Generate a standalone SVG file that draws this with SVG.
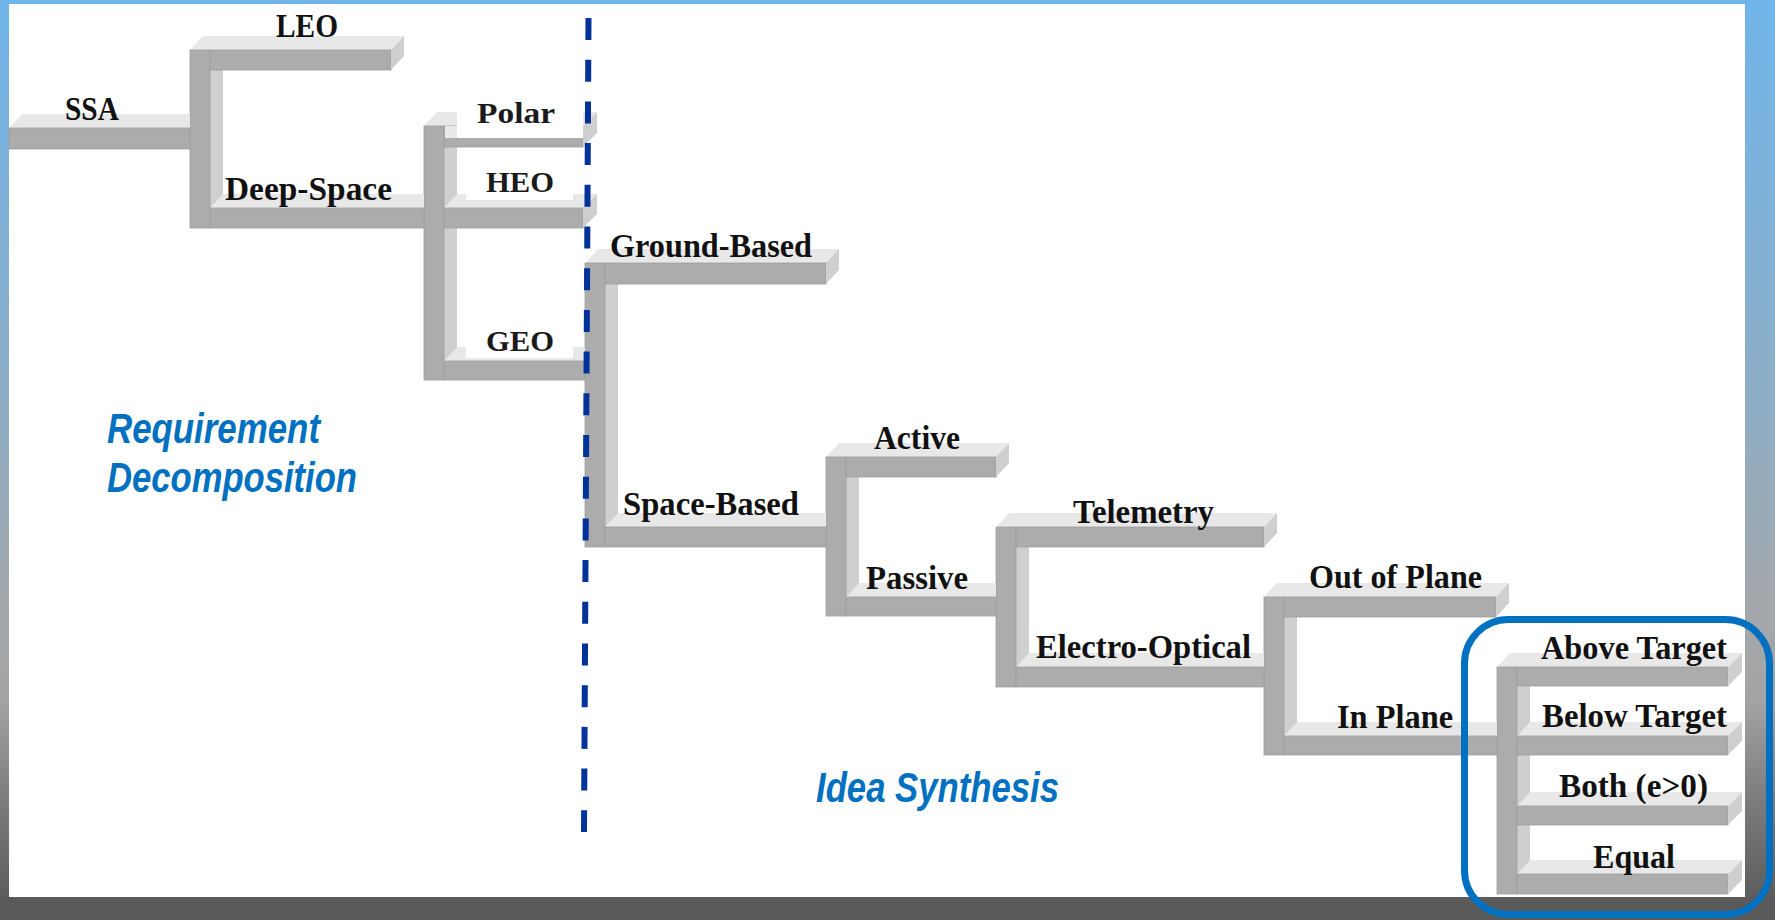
<svg xmlns="http://www.w3.org/2000/svg" width="1775" height="920" viewBox="0 0 1775 920">
  <defs>
    <linearGradient id="bg" x1="0" y1="0" x2="0" y2="1">
      <stop offset="0" stop-color="#70b5ea"/>
      <stop offset="0.43" stop-color="#8eaec6"/>
      <stop offset="0.65" stop-color="#a3a8ad"/>
      <stop offset="0.76" stop-color="#a4a4a4"/>
      <stop offset="0.87" stop-color="#7c7c7c"/>
      <stop offset="0.975" stop-color="#5d5d5d"/>
      <stop offset="1" stop-color="#5a5a5a"/>
    </linearGradient>
    <style>
      .front { fill:#acacac; stroke:#9e9e9e; stroke-width:0.8; }
      .top { fill:#e8e8e8; }
      .side { fill:#cfcfcf; }
      .mask { fill:#ffffff; }
      .lbl { font-family:"Liberation Serif","Times New Roman",serif; font-weight:bold; font-size:33px; fill:#111111; }
      .lbl2 { font-family:"Liberation Serif","Times New Roman",serif; font-weight:bold; font-size:29px; fill:#1a1a1a; }
      .phase { font-family:"Liberation Sans",Arial,sans-serif; font-weight:bold; font-style:italic; font-size:42px; fill:#0070c0; }
    </style>
  </defs>

  <!-- slide background and white canvas -->
  <rect x="0" y="0" width="1775" height="920" fill="url(#bg)"/>
  <rect x="0" y="897" width="1775" height="23" fill="#5a5a5a"/>
  <rect x="9" y="4" width="1736" height="893" fill="#ffffff"/>

  <!-- vertical branch bars joining each parent to its children -->
  <g id="connectors">
    <!-- SSA -> LEO / Deep-Space -->
    <polygon class="side" points="210,50 223,36 223,214 210,228"/>
    <polygon class="top" points="190,50 210,50 223,36 203,36"/>
    <rect class="front" x="190" y="50" width="20" height="178"/>
    <!-- Deep-Space -> Polar / HEO / GEO -->
    <polygon class="side" points="444,126 457,112 457,366 444,380"/>
    <polygon class="top" points="424,126 444,126 457,112 437,112"/>
    <rect class="front" x="424" y="126" width="20" height="254"/>
    <!-- GEO -> Ground-Based / Space-Based -->
    <polygon class="side" points="605,263 618,249 618,533 605,547"/>
    <polygon class="top" points="585,263 605,263 618,249 598,249"/>
    <rect class="front" x="585" y="263" width="20" height="284"/>
    <!-- Space-Based -> Active / Passive -->
    <polygon class="side" points="846,457 859,443 859,602 846,616"/>
    <polygon class="top" points="826,457 846,457 859,443 839,443"/>
    <rect class="front" x="826" y="457" width="20" height="159"/>
    <!-- Passive -> Telemetry / Electro-Optical -->
    <polygon class="side" points="1016,527 1029,513 1029,673 1016,687"/>
    <polygon class="top" points="996,527 1016,527 1029,513 1009,513"/>
    <rect class="front" x="996" y="527" width="20" height="160"/>
    <!-- Electro-Optical -> Out of Plane / In Plane -->
    <polygon class="side" points="1284,597 1297,583 1297,741 1284,755"/>
    <polygon class="top" points="1264,597 1284,597 1297,583 1277,583"/>
    <rect class="front" x="1264" y="597" width="20" height="158"/>
    <!-- In Plane -> Above / Below / Both / Equal -->
    <polygon class="side" points="1517,667 1530,653 1530,880 1517,894"/>
    <polygon class="top" points="1497,667 1517,667 1530,653 1510,653"/>
    <rect class="front" x="1497" y="667" width="20" height="227"/>
  </g>

  <g id="node-ssa">
    <polygon class="top" points="9,128 190,128 190,114 22,114"/>
    <rect class="front" x="9" y="128" width="181" height="21"/>
    <text class="lbl" x="65" y="120" textLength="54" lengthAdjust="spacingAndGlyphs">SSA</text>
  </g>

  <g id="node-leo">
    <polygon class="top" points="210,50 391,50 404,36 223,36"/>
    <rect class="front" x="210" y="50" width="181" height="20"/>
    <polygon class="side" points="391,50 404,36 404,56 391,70"/>
    <text class="lbl" x="276" y="37" textLength="62" lengthAdjust="spacingAndGlyphs">LEO</text>
  </g>

  <g id="node-deep-space">
    <polygon class="top" points="210,208 424,208 424,194 223,194"/>
    <rect class="front" x="210" y="208" width="214" height="20"/>
    <text class="lbl" x="225" y="200" textLength="167" lengthAdjust="spacingAndGlyphs">Deep-Space</text>
  </g>

  <g id="node-polar">
    <polygon class="top" points="444,126 583,126 597,112 457,112"/>
    <rect class="front" x="444" y="126" width="139" height="21"/>
    <polygon class="side" points="583,126 597,112 597,133 583,147"/>
    <rect class="mask" x="457" y="92" width="126" height="46"/>
    <rect class="top" x="445" y="126" width="12" height="12"/>
    <text class="lbl2" x="477" y="123" textLength="78" lengthAdjust="spacingAndGlyphs">Polar</text>
  </g>

  <g id="node-heo">
    <polygon class="top" points="444,208 583,208 597,194 457,194"/>
    <rect class="front" x="444" y="208" width="139" height="20"/>
    <polygon class="side" points="583,208 597,194 597,214 583,228"/>
    <rect class="mask" x="466" y="160" width="107" height="40"/>
    <text class="lbl2" x="486" y="192" textLength="68" lengthAdjust="spacingAndGlyphs">HEO</text>
  </g>

  <g id="node-geo">
    <polygon class="top" points="444,361 585,361 585,347 457,347"/>
    <rect class="front" x="444" y="361" width="141" height="19"/>
    <rect class="mask" x="466" y="318" width="107" height="40"/>
    <text class="lbl2" x="486" y="351" textLength="68" lengthAdjust="spacingAndGlyphs">GEO</text>
  </g>

  <g id="node-ground-based">
    <polygon class="top" points="605,263 826,263 839,249 618,249"/>
    <rect class="front" x="605" y="263" width="221" height="21"/>
    <polygon class="side" points="826,263 839,249 839,270 826,284"/>
    <text class="lbl" x="610" y="257" textLength="202" lengthAdjust="spacingAndGlyphs">Ground-Based</text>
  </g>

  <g id="node-space-based">
    <polygon class="top" points="605,527 826,527 826,513 618,513"/>
    <rect class="front" x="605" y="527" width="221" height="20"/>
    <text class="lbl" x="623" y="515" textLength="176" lengthAdjust="spacingAndGlyphs">Space-Based</text>
  </g>

  <g id="node-active">
    <polygon class="top" points="846,457 996,457 1009,443 859,443"/>
    <rect class="front" x="846" y="457" width="150" height="20"/>
    <polygon class="side" points="996,457 1009,443 1009,463 996,477"/>
    <text class="lbl" x="874" y="449" textLength="86" lengthAdjust="spacingAndGlyphs">Active</text>
  </g>

  <g id="node-passive">
    <polygon class="top" points="846,597 996,597 996,583 859,583"/>
    <rect class="front" x="846" y="597" width="150" height="19"/>
    <text class="lbl" x="866" y="589" textLength="102" lengthAdjust="spacingAndGlyphs">Passive</text>
  </g>

  <g id="node-telemetry">
    <polygon class="top" points="1016,527 1264,527 1277,513 1029,513"/>
    <rect class="front" x="1016" y="527" width="248" height="20"/>
    <polygon class="side" points="1264,527 1277,513 1277,533 1264,547"/>
    <text class="lbl" x="1073" y="523" textLength="141" lengthAdjust="spacingAndGlyphs">Telemetry</text>
  </g>

  <g id="node-electro-optical">
    <polygon class="top" points="1016,667 1264,667 1264,653 1029,653"/>
    <rect class="front" x="1016" y="667" width="248" height="20"/>
    <text class="lbl" x="1036" y="658" textLength="215" lengthAdjust="spacingAndGlyphs">Electro-Optical</text>
  </g>

  <g id="node-out-of-plane">
    <polygon class="top" points="1284,597 1496,597 1509,583 1297,583"/>
    <rect class="front" x="1284" y="597" width="212" height="20"/>
    <polygon class="side" points="1496,597 1509,583 1509,603 1496,617"/>
    <text class="lbl" x="1309" y="588" textLength="173" lengthAdjust="spacingAndGlyphs">Out of Plane</text>
  </g>

  <g id="node-in-plane">
    <polygon class="top" points="1284,736 1497,736 1497,722 1297,722"/>
    <rect class="front" x="1284" y="736" width="213" height="19"/>
    <text class="lbl" x="1337" y="728" textLength="116" lengthAdjust="spacingAndGlyphs">In Plane</text>
  </g>

  <g id="node-above-target">
    <polygon class="top" points="1517,667 1728,667 1742,653 1530,653"/>
    <rect class="front" x="1517" y="667" width="211" height="19"/>
    <polygon class="side" points="1728,667 1742,653 1742,672 1728,686"/>
    <text class="lbl" x="1541" y="659" textLength="186" lengthAdjust="spacingAndGlyphs">Above Target</text>
  </g>

  <g id="node-below-target">
    <polygon class="top" points="1517,736 1728,736 1742,722 1530,722"/>
    <rect class="front" x="1517" y="736" width="211" height="19"/>
    <polygon class="side" points="1728,736 1742,722 1742,741 1728,755"/>
    <text class="lbl" x="1542" y="727" textLength="185" lengthAdjust="spacingAndGlyphs">Below Target</text>
  </g>

  <g id="node-both">
    <polygon class="top" points="1517,806 1728,806 1742,792 1530,792"/>
    <rect class="front" x="1517" y="806" width="211" height="19"/>
    <polygon class="side" points="1728,806 1742,792 1742,811 1728,825"/>
    <text class="lbl" x="1559" y="797" textLength="149" lengthAdjust="spacingAndGlyphs">Both (e&gt;0)</text>
  </g>

  <g id="node-equal">
    <polygon class="top" points="1517,874 1728,874 1742,860 1530,860"/>
    <rect class="front" x="1517" y="874" width="211" height="20"/>
    <polygon class="side" points="1728,874 1742,860 1742,880 1728,894"/>
    <text class="lbl" x="1593" y="868" textLength="82" lengthAdjust="spacingAndGlyphs">Equal</text>
  </g>

  <!-- phase captions -->
  <g id="phase-labels">
    <text class="phase" x="107" y="443" textLength="213" lengthAdjust="spacingAndGlyphs">Requirement</text>
    <text class="phase" x="107" y="492" textLength="250" lengthAdjust="spacingAndGlyphs">Decomposition</text>
    <text class="phase" x="816" y="802" textLength="243" lengthAdjust="spacingAndGlyphs">Idea Synthesis</text>
  </g>

  <!-- boundary between the two phases -->
  <line id="phase-divider" x1="588.5" y1="18" x2="584" y2="832" stroke="#003399" stroke-width="6" stroke-dasharray="22 19.7"/>

  <!-- highlight around the final level -->
  <rect id="highlight" x="1464.5" y="619.5" width="305" height="295" rx="44" ry="44" fill="none" stroke="#0070c0" stroke-width="7"/>
</svg>
